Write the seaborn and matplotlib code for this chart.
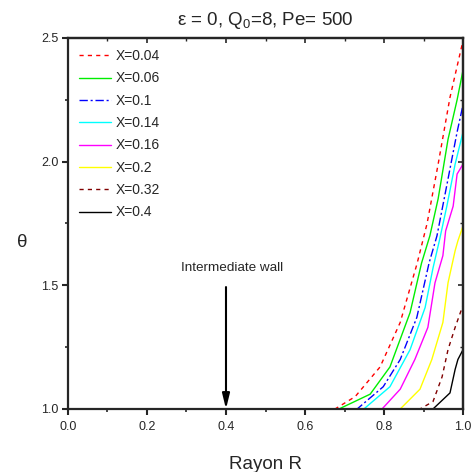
import matplotlib
matplotlib.use("Agg")
import matplotlib.pyplot as plt
import seaborn as sns
import pandas as pd

sns.set_style("ticks")
plt.rcParams['font.family'] = ['Liberation Sans', 'DejaVu Sans']
plt.rcParams['mathtext.fontset'] = 'custom'
plt.rcParams['mathtext.rm'] = 'Liberation Sans'

# ---- data ----
labels = ["X=0.04", "X=0.06", "X=0.1", "X=0.14", "X=0.16", "X=0.2", "X=0.32", "X=0.4"]

r_004 = [0.0, 0.676, 0.727, 0.790, 0.841, 0.884, 0.909, 0.937, 0.967, 1.0]
t_004 = [1.0, 1.0, 1.05, 1.17, 1.35, 1.59, 1.75, 1.99, 2.26, 2.49]

r_006 = [0.0, 0.686, 0.765, 0.815, 0.866, 0.895, 0.916, 0.937, 0.962, 0.985, 1.0]
t_006 = [1.0, 1.0, 1.06, 1.17, 1.39, 1.59, 1.70, 1.85, 2.09, 2.25, 2.37]

r_010 = [0.0, 0.732, 0.798, 0.841, 0.883, 0.914, 0.934, 0.962, 0.985, 1.0]
t_010 = [1.0, 1.0, 1.09, 1.20, 1.37, 1.59, 1.70, 1.93, 2.12, 2.23]

r_014 = [0.0, 0.749, 0.815, 0.866, 0.904, 0.924, 0.940, 0.959, 0.980, 1.0]
t_014 = [1.0, 1.0, 1.09, 1.24, 1.41, 1.57, 1.68, 1.82, 1.99, 2.12]

r_016 = [0.0, 0.795, 0.841, 0.878, 0.911, 0.929, 0.949, 0.956, 0.975, 0.985, 1.0]
t_016 = [1.0, 1.0, 1.08, 1.20, 1.33, 1.51, 1.62, 1.72, 1.82, 1.95, 1.99]

r_020 = [0.0, 0.841, 0.891, 0.921, 0.949, 0.962, 0.980, 0.987, 1.0]
t_020 = [1.0, 1.0, 1.08, 1.20, 1.35, 1.51, 1.64, 1.68, 1.74]

r_032 = [0.0, 0.891, 0.924, 0.947, 0.962, 0.980, 1.0]
t_032 = [1.0, 1.0, 1.03, 1.13, 1.24, 1.33, 1.42]

r_040 = [0.0, 0.924, 0.967, 0.980, 0.987, 1.0]
t_040 = [1.0, 1.0, 1.065, 1.16, 1.20, 1.24]

series_r = [r_004, r_006, r_010, r_014, r_016, r_020, r_032, r_040]
series_t = [t_004, t_006, t_010, t_014, t_016, t_020, t_032, t_040]

colors = ["#ff0000", "#00ee00", "#0000ff", "#00ffff", "#ff00ff", "#ffff00", "#800000", "#000000"]
styles = [(0, (3, 3)), "-", (0, (6, 2, 1.5, 2)), "-", "-", "-", (0, (3, 3)), "-"]

fig = plt.figure(figsize=(4.72, 4.72), dpi=100)
ax = fig.add_axes([0.144, 0.1335, 0.837, 0.786])

for r, t, lab, c, ls in zip(series_r, series_t, labels, colors, styles):
    df = pd.DataFrame({"R": r, "theta": t})
    sns.lineplot(data=df, x="R", y="theta", ax=ax, color=c, linestyle=ls,
                 linewidth=1.0, label=lab, sort=False, estimator=None)

ax.set_xlim(0.0, 1.0)
ax.set_ylim(1.0, 2.5)
ax.set_xticks([0.0, 0.2, 0.4, 0.6, 0.8, 1.0])
ax.set_xticks([0.1, 0.3, 0.5, 0.7, 0.9], minor=True)
ax.set_yticks([1.0, 1.5, 2.0, 2.5])
ax.set_yticks([1.25, 1.75, 2.25], minor=True)
ax.set_xticklabels(["0.0", "0.2", "0.4", "0.6", "0.8", "1.0"])
ax.set_yticklabels(["1.0", "1.5", "2.0", "2.5"])

for s in ax.spines.values():
    s.set_linewidth(1.6)
    s.set_visible(True)
ax.tick_params(axis='x', which='major', direction='out', length=4, width=1.5,
               labelsize=9, pad=5)
ax.tick_params(axis='y', which='major', direction='out', length=4, width=1.5,
               labelsize=9, pad=3)
ax.tick_params(axis='both', which='minor', direction='out', length=2.5, width=1.2)

# inward ticks on top and right
sx = ax.secondary_xaxis('top')
sx.set_xticks([0.0, 0.2, 0.4, 0.6, 0.8, 1.0])
sx.set_xticks([0.1, 0.3, 0.5, 0.7, 0.9], minor=True)
sx.tick_params(which='major', direction='in', length=3.5, width=1.2, labeltop=False)
sx.tick_params(which='minor', direction='in', length=2.5, width=1.0)
sx.spines['top'].set_linewidth(1.6)
sy = ax.secondary_yaxis('right')
sy.set_yticks([1.0, 1.5, 2.0, 2.5])
sy.set_yticks([1.25, 1.75, 2.25], minor=True)
sy.tick_params(which='major', direction='in', length=3.5, width=1.2, labelright=False)
sy.tick_params(which='minor', direction='in', length=2.5, width=1.0)
sy.spines['right'].set_linewidth(1.6)

ax.set_xlabel("Rayon R", fontsize=13.5, labelpad=16)
ax.set_ylabel("θ", fontsize=13.5, rotation=0, va='center')
ax.yaxis.set_label_coords(-0.115, 0.45)
ax.set_title(r"ε = 0, Q$_{0}$=8, Pe= 500", fontsize=13.5, pad=9)

ax.annotate("", xy=(0.4, 1.0), xytext=(0.4, 1.493),
            arrowprops=dict(arrowstyle="-|>,head_length=0.9,head_width=0.22",
                            lw=1.5, color="black", shrinkA=0, shrinkB=0))
ax.text(0.415, 1.57, "Intermediate wall", fontsize=9.7, ha='center', va='center')

leg = ax.legend(loc='upper left', frameon=False, fontsize=10, handlelength=2.3,
                handletextpad=0.3, labelspacing=0.6, borderaxespad=0.4,
                bbox_to_anchor=(0.0, 1.0))

fig.savefig("out.png", dpi=100)
